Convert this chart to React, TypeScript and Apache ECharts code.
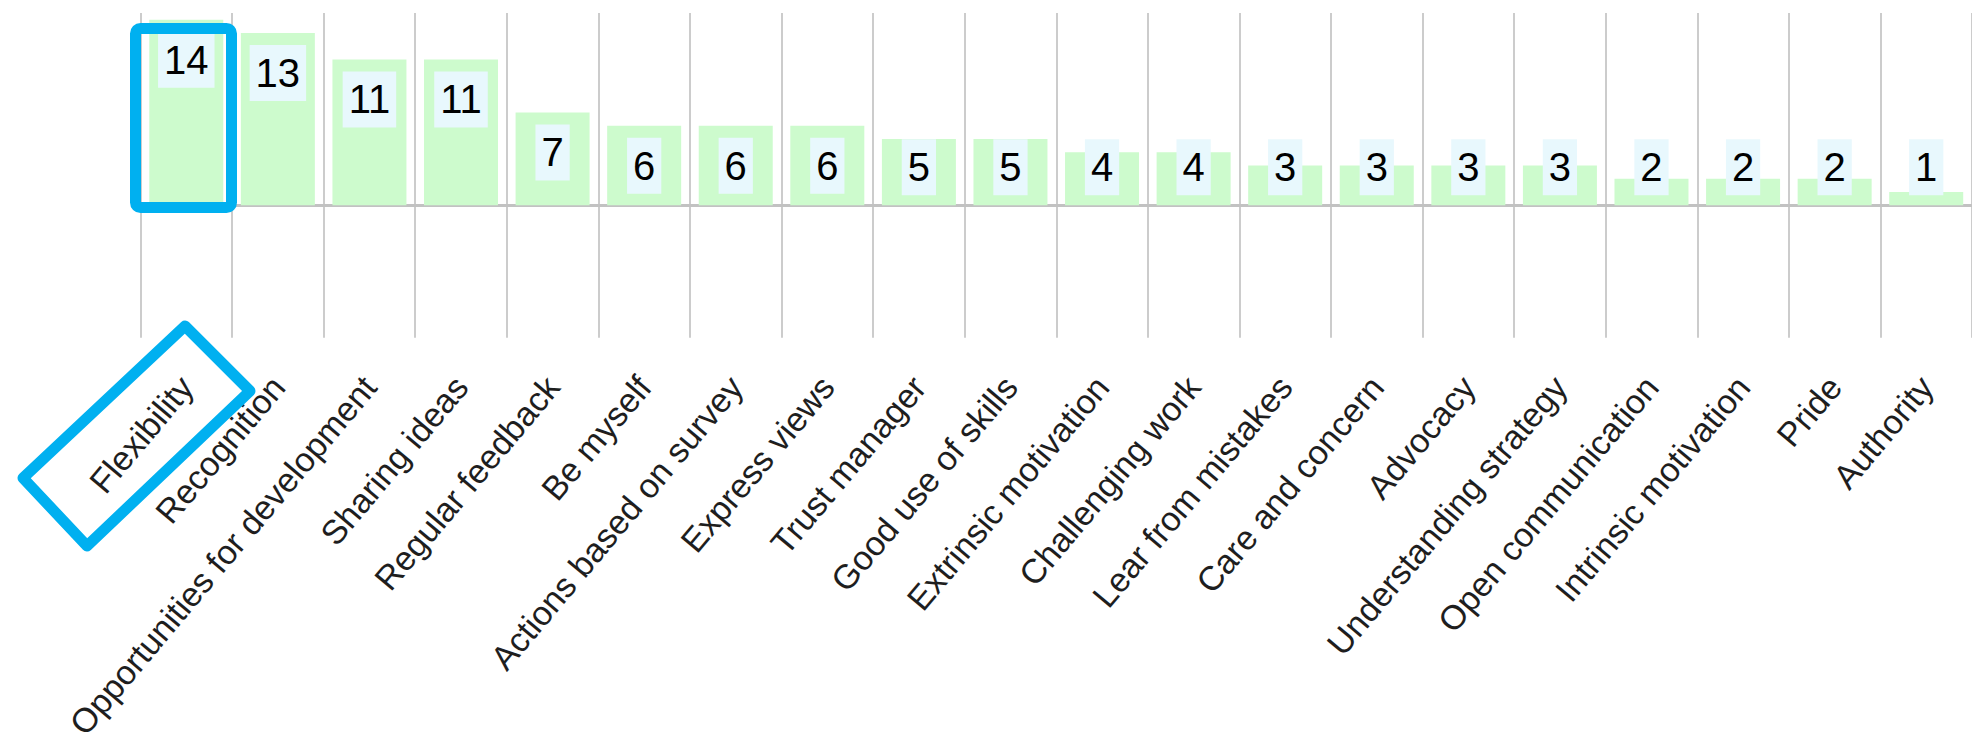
import React, { useEffect, useRef } from "react";
import * as echarts from "echarts";

const categories = [
  "Flexibility",
  "Recognition",
  "Opportunities for development",
  "Sharing ideas",
  "Regular feedback",
  "Be myself",
  "Actions based on survey",
  "Express views",
  "Trust manager",
  "Good use of skills",
  "Extrinsic motivation",
  "Challenging work",
  "Lear from mistakes",
  "Care and concern",
  "Advocacy",
  "Understanding strategy",
  "Open communication",
  "Intrinsic motivation",
  "Pride",
  "Authority",
];

const values = [14, 13, 11, 11, 7, 6, 6, 6, 5, 5, 4, 4, 3, 3, 3, 3, 2, 2, 2, 1];

const BAR_COLOR = "#cdfbcd";
const LABEL_BG = "#e8f8fd";
const GRID_COLOR = "#cccccc";
const HIGHLIGHT = "#00b0f0";
const FONT = "'Liberation Sans', Arial, sans-serif";

export default function App() {
  const ref = useRef<HTMLDivElement>(null);

  useEffect(() => {
    if (!ref.current) return;
    const chart = echarts.init(ref.current, undefined, { renderer: "svg" });

    const barData = values.map((v) => ({
      value: v,
      label: {
        position: v >= 6 ? "insideTop" : "insideBottom",
        distance: v >= 6 ? 12 : 10,
      },
    }));

    chart.setOption({
      animation: false,
      backgroundColor: "#ffffff",
      grid: { left: 140.5, top: 13, width: 1846, height: 329, containLabel: false },
      xAxis: [
        {
          type: "category",
          data: categories,
          position: "bottom",
          axisLine: { show: false, onZero: false },
          axisTick: { show: false },
          splitLine: { show: true, lineStyle: { color: GRID_COLOR, width: 2 } },
          axisLabel: {
            interval: 0,
            rotate: 50,
            margin: 43,
            align: "right",
            verticalAlign: "middle",
            fontSize: 34,
            fontFamily: FONT,
            color: "#1e1e1e",
          },
        },
        {
          type: "category",
          data: categories,
          position: "top",
          axisLine: { show: true, onZero: true, lineStyle: { color: "#c2c2c2", width: 3 } },
          axisTick: { show: false },
          axisLabel: { show: false },
          splitLine: { show: false },
        },
      ],
      yAxis: {
        type: "value",
        min: -10,
        max: 14.5,
        show: false,
        splitLine: { show: false },
      },
      series: [
        {
          type: "bar",
          xAxisIndex: 0,
          data: barData,
          barWidth: 74,
          itemStyle: { color: BAR_COLOR },
          label: {
            show: true,
            fontSize: 40,
            lineHeight: 40,
            fontFamily: FONT,
            color: "#000000",
            backgroundColor: LABEL_BG,
            padding: [8, 6],
          },
          z: 2,
        },
      ],
      graphic: [
        {
          type: "rect",
          shape: { x: 135.5, y: 28.5, width: 96, height: 179, r: 5 },
          style: { fill: "none", stroke: HIGHLIGHT, lineWidth: 11 },
          z: 100,
        },
        {
          type: "polygon",
          shape: {
            points: [
              [185, 326],
              [250, 391],
              [87, 546],
              [23, 478],
            ],
          },
          style: { fill: "none", stroke: HIGHLIGHT, lineWidth: 11, lineJoin: "round" },
          z: 100,
        },
      ],
    });

    return () => chart.dispose();
  }, []);

  return (
    <div
      ref={ref}
      style={{ position: "fixed", left: 0, top: 0, width: 1972, height: 743 }}
    />
  );
}
